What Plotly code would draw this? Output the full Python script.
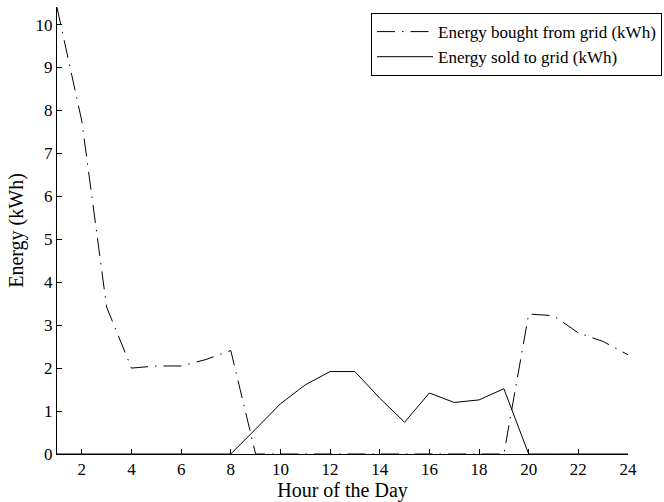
import plotly.graph_objects as go

hours = list(range(1, 25))
bought = [10.4, 7.75, 3.42, 2.0, 2.05, 2.05, 2.2, 2.41, 0, 0, 0, 0, 0, 0, 0, 0, 0, 0, 0,
          3.26, 3.22, 2.82, 2.62, 2.31]
sold = [0, 0, 0, 0, 0, 0, 0, 0, 0.58, 1.17, 1.61, 1.92, 1.92, 1.3, 0.74, 1.42, 1.2, 1.26,
        1.52, 0, 0, 0, 0, 0]
xticks = list(range(2, 25, 2))
yticks = list(range(0, 11))

font = "Liberation Serif, Times New Roman, serif"

fig = go.Figure()
fig.add_trace(go.Scatter(x=hours, y=bought, mode="lines", name="Energy bought from grid (kWh)",
                         line=dict(color="black", width=1, dash="18px,7px,1.5px,7px")))
fig.add_trace(go.Scatter(x=hours, y=sold, mode="lines", name="Energy sold to grid (kWh)",
                         line=dict(color="black", width=1)))

fig.update_layout(
    width=664, height=502,
    margin=dict(l=57, r=36, t=7, b=48, autoexpand=False),
    paper_bgcolor="white", plot_bgcolor="white",
    font=dict(family=font, size=17, color="black"),
    showlegend=True,
    legend=dict(xref="container", yref="container", x=0.997, xanchor="right",
                y=0.974, yanchor="top",
                bordercolor="black", borderwidth=1, bgcolor="white",
                font=dict(family=font, size=17), tracegroupgap=0,
                itemwidth=56),
    xaxis=dict(range=[1, 24], tickvals=xticks, ticks="inside", ticklen=5, tickcolor="black",
               showline=True, linecolor="black", linewidth=1, showgrid=False, zeroline=False,
               title=dict(text="Hour of the Day", font=dict(size=20), standoff=2),
               tickfont=dict(size=17)),
    yaxis=dict(range=[0, 10.41], tickvals=yticks, ticks="inside", ticklen=5, tickcolor="black",
               showline=True, linecolor="black", linewidth=1, showgrid=False, zeroline=False,
               title=dict(text="Energy (kWh)", font=dict(size=20), standoff=6),
               tickfont=dict(size=17)),
)

fig.write_html("out.html")
